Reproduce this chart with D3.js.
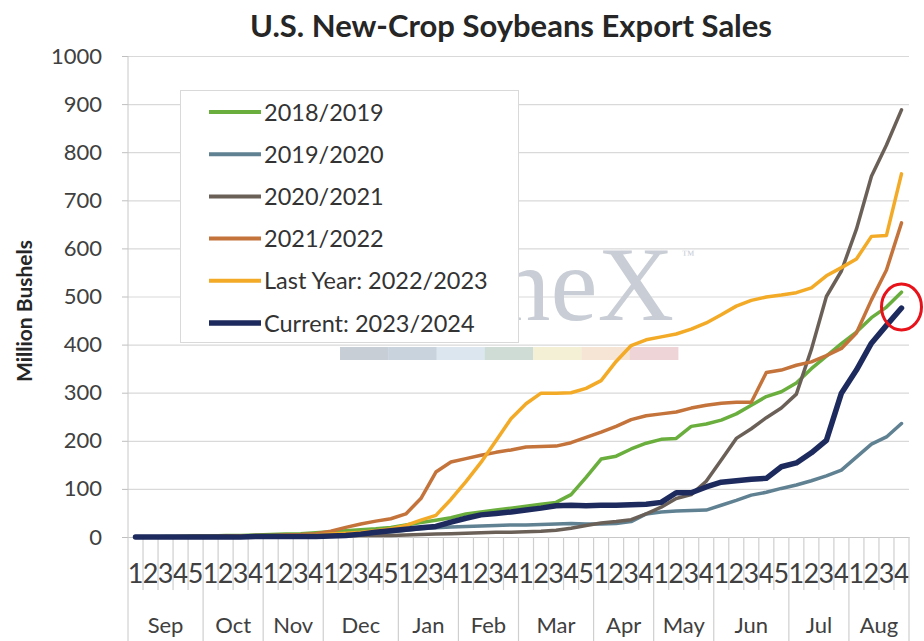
<!DOCTYPE html>
<html><head><meta charset="utf-8">
<script src="https://cdn.jsdelivr.net/npm/d3@7"></script>
<style>
body{margin:0;background:#fff}
svg{display:block}
</style>
</head><body>
<svg id="c" width="924" height="641" font-family="Lato, 'Open Sans', sans-serif"></svg>
<script>
// ---------- data ----------
const months = ["Sep","Oct","Nov","Dec","Jan","Feb","Mar","Apr","May","Jun","Jul","Aug"];
const weeksPerMonth = [5,4,4,5,4,4,5,4,4,5,4,4];
const yTicks = [0,100,200,300,400,500,600,700,800,900,1000];
const seriesNames = ["2018/2019","2019/2020","2020/2021","2021/2022","Last Year: 2022/2023","Current: 2023/2024"];
const seriesColors = ["#6aae3e","#5f8192","#6b6058","#c4733b","#f2aa27","#1d2a5e"];
const seriesWidths = [3.5,3.5,3.5,3.5,3.5,5.5];

const s2018 = [0,0,1,1,2,2,3,3,4,5,6,7,9,11,13,15,17,20,25,30,35,40,48,52,56,60,64,68,72,88,124,162,168,183,195,203,205,230,235,243,256,274,292,302,320,350,376,402,426,456,478,509];
const s2019 = [0,0,0,0,1,1,1,1,2,2,2,3,3,4,5,7,9,11,14,17,19,21,22,23,24,25,25,26,27,28,27,27,28,32,48,52,54,55,56,66,76,87,93,101,108,117,127,139,166,193,208,236];
const s2020 = [0,0,0,0,0,0,1,1,1,1,1,2,2,2,2,3,3,3,4,5,6,7,8,9,10,10,11,12,14,18,24,29,32,36,48,62,80,88,116,160,205,225,248,268,297,390,500,553,640,750,815,888];
const s2021 = [0,0,0,1,1,1,2,2,3,3,4,5,7,12,20,27,33,38,48,80,135,156,163,170,176,181,187,188,189,196,207,218,230,244,252,256,260,268,274,278,280,280,342,347,357,364,377,392,424,493,555,653];
const s2022 = [0,0,0,0,1,1,1,2,2,2,3,3,4,6,8,10,13,17,24,35,45,78,115,155,200,246,277,299,299,300,309,325,365,398,410,416,422,432,445,462,480,492,499,503,508,518,543,560,578,625,627,755];
const s2023 = [0,0,0,0,0,0,0,0,1,1,1,1,1,2,3,6,10,13,16,19,22,31,39,46,49,52,56,60,65,66,65,66,66,67,68,72,92,92,104,114,117,120,122,146,154,175,201,299,347,403,440,476];
const seriesValues = [s2018,s2019,s2020,s2021,s2022,s2023];

// ---------- build categories ----------
const cats = [];
months.forEach((m,mi)=>{ for(let w=1; w<=weeksPerMonth[mi]; w++) cats.push({key:m+"-"+w, month:m, week:w, mi}); });

const svg = d3.select("#c");
const L = 128, R = 909, T = 56, B = 537;
const x = d3.scaleBand().domain(cats.map(d=>d.key)).range([L,R]).padding(0);
const y = d3.scaleLinear().domain([0,1000]).range([B,T]);
const xc = k => x(k) + x.bandwidth()/2;

// ---------- title ----------
svg.append("text").attr("x",511).attr("y",37).attr("text-anchor","middle")
  .attr("font-size",31).attr("font-weight","bold").attr("fill","#262626")
  .text("U.S. New-Crop Soybeans Export Sales");

// ---------- gridlines ----------
const grid = svg.append("g").attr("transform",`translate(${L},0)`)
  .call(d3.axisLeft(y).tickValues(yTicks).tickSize(-(R-L)).tickFormat(""));
grid.select(".domain").remove();
grid.selectAll("line").attr("stroke","#d9d9d9").attr("stroke-width",1.2);

// ---------- watermark (partly hidden behind legend) ----------
const clip = svg.append("defs").append("clipPath").attr("id","wmclip");
clip.append("rect").attr("x",519).attr("y",150).attr("width",200).attr("height",190);
const wm = svg.append("g");
wm.append("text").attr("x",674).attr("y",320).attr("text-anchor","end")
  .attr("clip-path","url(#wmclip)")
  .style("font-family","'Liberation Serif', 'DejaVu Serif', serif").attr("font-size",106)
  .attr("fill","#c9ced6").text("neX");
wm.append("text").attr("x",682).attr("y",259).style("font-family","'Liberation Serif', serif")
  .attr("font-size",13).attr("fill","#c9ced6").text("™");
const barCols = ["#c8ced6","#c8d3de","#dbe6ef","#cfdcd6","#f4f0d6","#f6e5d4","#eed3d7"];
barCols.forEach((c,i)=>{
  wm.append("rect").attr("x",340+i*48.3).attr("y",347).attr("width",48.6).attr("height",13).attr("fill",c);
});

// ---------- y axis ----------
const ya = svg.append("g").attr("transform",`translate(${L},0)`)
  .call(d3.axisLeft(y).tickValues(yTicks).tickSize(6).tickPadding(20).tickFormat(d3.format("d")));
ya.select(".domain").remove();
ya.attr("font-family",null).attr("font-size",null);
ya.selectAll("line").attr("stroke","#bfbfbf");
ya.selectAll("text").attr("font-size",22).attr("fill","#404040");
svg.append("line").attr("x1",L).attr("x2",L).attr("y1",T).attr("y2",641).attr("stroke","#c8c8c8");

svg.append("text").attr("transform","translate(32,311) rotate(-90)").attr("text-anchor","middle")
  .attr("font-size",21).attr("font-weight","bold").attr("fill","#262626").text("Million Bushels");

// ---------- x axis (multi-level) ----------
const xa = svg.append("g").attr("transform",`translate(0,${B})`)
  .call(d3.axisBottom(x).tickSize(0).tickPadding(0).tickFormat(k=>cats.find(c=>c.key===k).week));
xa.attr("font-family",null).attr("font-size",null);
xa.select(".domain").attr("stroke","#c8c8c8");
xa.selectAll("text").attr("font-size",27).attr("fill","#404040").attr("dy",0).attr("y",46);
// separators
cats.forEach((c,i)=>{
  if(i===0) return;
  const isMonth = c.week===1;
  svg.append("line").attr("x1",x(c.key)).attr("x2",x(c.key))
    .attr("y1",B).attr("y2",isMonth?641:590)
    .attr("stroke","#cfcfcf").attr("stroke-width",1.2);
});
svg.append("line").attr("x1",R).attr("x2",R).attr("y1",B).attr("y2",641).attr("stroke","#cfcfcf").attr("stroke-width",1.2);
// month labels
months.forEach((m,mi)=>{
  const ks = cats.filter(c=>c.mi===mi);
  const x0 = x(ks[0].key), x1 = x(ks[ks.length-1].key)+x.bandwidth();
  svg.append("text").attr("x",(x0+x1)/2).attr("y",633).attr("text-anchor","middle")
    .attr("font-size",22).attr("fill","#404040").text(m);
});

// ---------- legend ----------
const lg = svg.append("g");
lg.append("rect").attr("x",180.5).attr("y",90.5).attr("width",338).attr("height",252)
  .attr("fill","#fff").attr("stroke","#d9d9d9");
seriesNames.forEach((n,i)=>{
  const cy = 112 + i*42.2;
  lg.append("line").attr("x1",209).attr("x2",261).attr("y1",cy).attr("y2",cy)
    .attr("stroke",seriesColors[i]).attr("stroke-width",i===5?5.5:4);
  lg.append("text").attr("x",264).attr("y",cy+8.5).attr("font-size",23.5).attr("fill","#333").text(n);
});

// ---------- lines ----------
const line = d3.line().x((d,i)=>xc(cats[i].key)).y(d=>y(d));
seriesValues.forEach((vals,si)=>{
  svg.append("path").datum(vals).attr("d",line).attr("fill","none")
    .attr("stroke",seriesColors[si]).attr("stroke-width",seriesWidths[si])
    .attr("stroke-linejoin","round").attr("stroke-linecap","round");
});

// ---------- annotation circle ----------
const last = cats[cats.length-1].key;
svg.append("ellipse").attr("cx",xc(last)).attr("cy",y(s2023[s2023.length-1])-1)
  .attr("rx",20).attr("ry",23).attr("fill","none").attr("stroke","#e8121a").attr("stroke-width",3);
</script>
</body></html>
